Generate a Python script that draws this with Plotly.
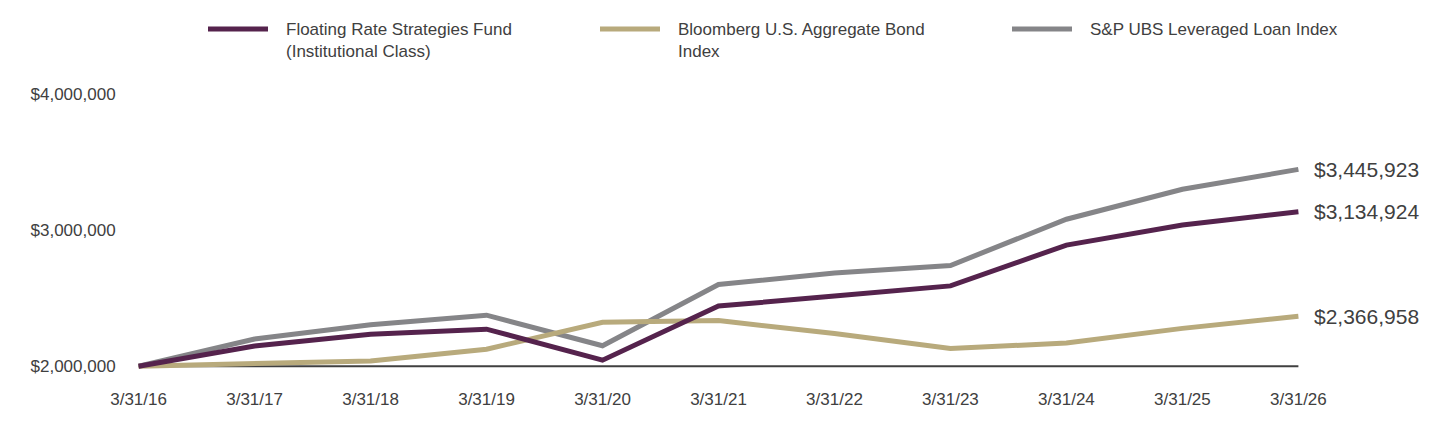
import plotly.graph_objects as go

categories = ["3/31/16", "3/31/17", "3/31/18", "3/31/19", "3/31/20", "3/31/21",
              "3/31/22", "3/31/23", "3/31/24", "3/31/25", "3/31/26"]

fund = [2000000, 2148000, 2235000, 2272000, 2044000, 2442000,
        2515000, 2590000, 2890000, 3038000, 3134924]
bond = [2000000, 2020000, 2038000, 2125000, 2322000, 2335000,
        2240000, 2130000, 2170000, 2278000, 2366958]
loan = [2000000, 2200000, 2305000, 2375000, 2150000, 2600000,
        2685000, 2740000, 3080000, 3300000, 3445923]

series_names = ["Floating Rate Strategies Fund<br>(Institutional Class)",
                "Bloomberg U.S. Aggregate Bond<br>Index",
                "S&P UBS Leveraged Loan Index"]
end_labels = ["$3,134,924", "$2,366,958", "$3,445,923"]
colors = ["#55234D", "#B8AA7C", "#858588"]

ytick_vals = [2000000, 3000000, 4000000]
ytick_text = ["$2,000,000", "$3,000,000", "$4,000,000"]

FONT = "Liberation Sans, Arial, sans-serif"
TXT = "#404040"

x = list(range(len(categories)))
fig = go.Figure()

order = [2, 1, 0]
data = [fund, bond, loan]
for i in order:
    fig.add_trace(go.Scatter(x=x, y=data[i], mode="lines",
                             line=dict(color=colors[i], width=5),
                             name=series_names[i], showlegend=False,
                             hoverinfo="skip"))

# baseline axis line at $2,000,000
fig.add_shape(type="line", xref="x", yref="y", x0=0, x1=len(categories) - 1,
              y0=ytick_vals[0], y1=ytick_vals[0],
              line=dict(color="#404040", width=2), layer="below")

# end labels
for i in range(3):
    fig.add_annotation(x=x[-1], y=data[i][-1], text=end_labels[i], showarrow=False,
                       xanchor="left", yanchor="middle", xshift=14,
                       font=dict(family=FONT, size=21, color=TXT))

# custom legend
leg_x = [208, 600, 1012]
for i in range(3):
    fig.add_shape(type="line", xref="paper", yref="paper",
                  x0=(leg_x[i] - 127) / 1183, x1=(leg_x[i] + 60 - 127) / 1183,
                  y0=(432 - 59 - 29) / 279, y1=(432 - 59 - 29) / 279,
                  line=dict(color=colors[i], width=5))
    fig.add_annotation(xref="paper", yref="paper",
                       x=(leg_x[i] + 76 - 127) / 1183, y=(432 - 59 - 18) / 279,
                       text=series_names[i], showarrow=False, align="left",
                       xanchor="left", yanchor="top",
                       font=dict(family=FONT, size=17, color=TXT))

fig.update_layout(
    width=1440, height=432,
    margin=dict(l=127, r=130, t=94, b=59),
    paper_bgcolor="white", plot_bgcolor="white",
    font=dict(family=FONT, size=17, color=TXT),
    showlegend=False,
    xaxis=dict(range=[-0.1, len(categories) - 0.9], tickvals=x, ticktext=categories,
               showgrid=False, zeroline=False, showline=False,
               ticks="outside", ticklen=0, ticklabelstandoff=11,
               tickfont=dict(family=FONT, size=17, color=TXT), fixedrange=True),
    yaxis=dict(range=[1950000, 4000000], tickvals=ytick_vals, ticktext=ytick_text,
               showgrid=False, zeroline=False, showline=False,
               ticks="outside", ticklen=0, ticklabelstandoff=7,
               tickfont=dict(family=FONT, size=17, color=TXT), fixedrange=True),
)

fig.write_html("out.html")
